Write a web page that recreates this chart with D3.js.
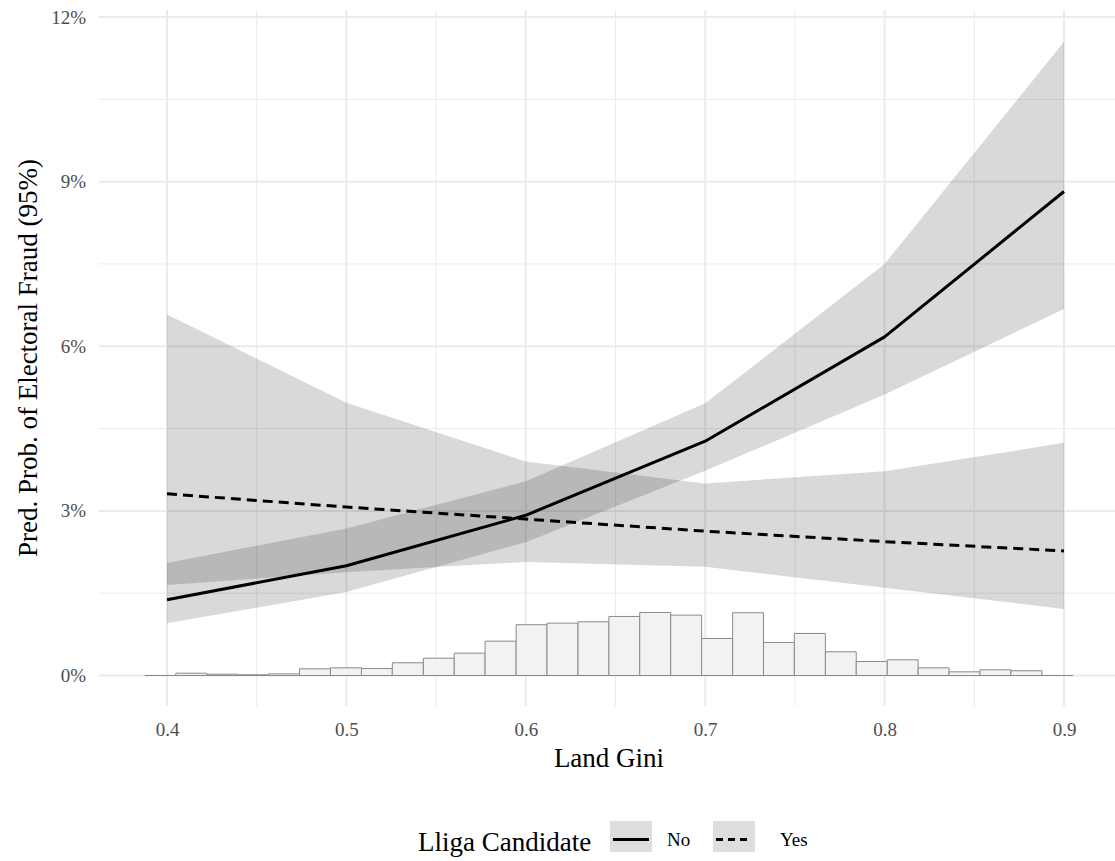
<!DOCTYPE html>
<html>
<head>
<meta charset="utf-8">
<script src="https://cdn.jsdelivr.net/npm/d3@7"></script>
<style>
  html, body { margin: 0; padding: 0; background: #fff; }
  svg { display: block; }
  text { font-family: "Liberation Serif", "DejaVu Serif", serif; }
</style>
</head>
<body>
<svg id="chart" width="1115" height="861"></svg>
<script>
// ---- data ----
const gini = [0.4, 0.5, 0.6, 0.7, 0.8, 0.9];

// Lliga Candidate = No (solid)
const noFit   = [1.38, 2.00, 2.92, 4.27, 6.17, 8.82];
const noLower = [0.95, 1.52, 2.43, 3.73, 5.12, 6.68];
const noUpper = [2.05, 2.68, 3.54, 4.96, 7.50, 11.55];

// Lliga Candidate = Yes (dashed)
const yesFit   = [3.31, 3.07, 2.85, 2.63, 2.44, 2.27];
const yesLower = [1.65, 1.88, 2.07, 1.98, 1.60, 1.21];
const yesUpper = [6.58, 4.97, 3.90, 3.50, 3.72, 4.24];

// Histogram of Land Gini (bar heights in percentage-point units of the y axis)
const histEdges = [0.3877, 0.4049, 0.4222, 0.4394, 0.4567, 0.4739, 0.4911, 0.5084,
  0.5256, 0.5429, 0.5601, 0.5773, 0.5946, 0.6118, 0.6291, 0.6463, 0.6635, 0.6808,
  0.6980, 0.7153, 0.7325, 0.7497, 0.7670, 0.7842, 0.8015, 0.8187, 0.8359, 0.8532,
  0.8704, 0.8877, 0.9049];
const histHeights = [0, 0.042, 0.024, 0.013, 0.031, 0.122, 0.140, 0.128, 0.232, 0.316,
  0.407, 0.626, 0.925, 0.954, 0.979, 1.076, 1.149, 1.100, 0.675, 1.144, 0.602, 0.766,
  0.432, 0.255, 0.286, 0.140, 0.067, 0.104, 0.086, 0];

const xTicks = [0.4, 0.5, 0.6, 0.7, 0.8, 0.9];
const xMinor = [0.45, 0.55, 0.65, 0.75, 0.85];
const yTicks = [0, 3, 6, 9, 12];
const yMinor = [1.5, 4.5, 7.5, 10.5];

const legendLabels = ["No", "Yes"];
const xTitle = "Land Gini";
const yTitle = "Pred. Prob. of Electoral Fraud (95%)";
const legendTitle = "Lliga Candidate";

// ---- layout ----
const panel = { left: 99, right: 1115, top: 10, bottom: 706 };
const x = d3.scaleLinear().domain([0.4, 0.9]).range([167, 1064]);
const y = d3.scaleLinear().domain([0, 12]).range([675.5, 17]);

const svg = d3.select("#chart");

// grid
const grid = svg.append("g");
grid.selectAll("line.ymin").data(yMinor).enter().append("line")
  .attr("x1", panel.left).attr("x2", panel.right)
  .attr("y1", d => y(d)).attr("y2", d => y(d))
  .attr("stroke", "#ebebeb").attr("stroke-width", 1);
grid.selectAll("line.xmin").data(xMinor).enter().append("line")
  .attr("y1", panel.top).attr("y2", panel.bottom)
  .attr("x1", d => x(d)).attr("x2", d => x(d))
  .attr("stroke", "#ebebeb").attr("stroke-width", 1);
grid.selectAll("line.ymaj").data(yTicks).enter().append("line")
  .attr("x1", panel.left).attr("x2", panel.right)
  .attr("y1", d => y(d)).attr("y2", d => y(d))
  .attr("stroke", "#ebebeb").attr("stroke-width", 2);
grid.selectAll("line.xmaj").data(xTicks).enter().append("line")
  .attr("y1", panel.top).attr("y2", panel.bottom)
  .attr("x1", d => x(d)).attr("x2", d => x(d))
  .attr("stroke", "#ebebeb").attr("stroke-width", 2);

// histogram
const bins = histHeights.map((h, i) => ({ x0: histEdges[i], x1: histEdges[i + 1], h }));
svg.append("g").selectAll("path").data(bins).enter().append("path")
  .attr("d", b => `M${x(b.x0)},${y(0)}V${y(b.h)}H${x(b.x1)}V${y(0)}Z`)
  .attr("fill", "#f2f2f2")
  .attr("stroke", "#8a8a8a")
  .attr("stroke-width", 1);

// ribbons
const area = (lo, hi) => d3.area()
  .x((d, i) => x(gini[i]))
  .y0((d, i) => y(lo[i]))
  .y1((d, i) => y(hi[i]))(gini);
svg.append("path").attr("d", area(noLower, noUpper))
  .attr("fill", "#000").attr("fill-opacity", 0.15);
svg.append("path").attr("d", area(yesLower, yesUpper))
  .attr("fill", "#000").attr("fill-opacity", 0.15);

// lines
const line = vals => d3.line().x((d, i) => x(gini[i])).y((d, i) => y(vals[i]))(gini);
svg.append("path").attr("d", line(noFit))
  .attr("fill", "none").attr("stroke", "#000").attr("stroke-width", 3)
  .attr("stroke-linejoin", "round");
svg.append("path").attr("d", line(yesFit))
  .attr("fill", "none").attr("stroke", "#000").attr("stroke-width", 3)
  .attr("stroke-dasharray", "10,6");

// axes
const yAxis = svg.append("g").attr("transform", `translate(${panel.left},0)`)
  .call(d3.axisLeft(y).tickValues(yTicks).tickSize(0).tickPadding(13)
    .tickFormat(d => d + "%"));
yAxis.select(".domain").remove();
yAxis.selectAll("text").attr("font-size", 19).attr("fill", "#4d4d4d")
  .attr("font-family", "Liberation Serif, serif");

const xAxis = svg.append("g").attr("transform", `translate(0,${panel.bottom})`)
  .call(d3.axisBottom(x).tickValues(xTicks).tickSize(0).tickPadding(17)
    .tickFormat(d3.format(".1f")));
xAxis.select(".domain").remove();
xAxis.selectAll("text").attr("font-size", 19).attr("fill", "#4d4d4d")
  .attr("font-family", "Liberation Serif, serif");

// axis titles
svg.append("text").text(xTitle)
  .attr("x", (panel.left + panel.right) / 2 + 2).attr("y", 767)
  .attr("text-anchor", "middle").attr("font-size", 27).attr("fill", "#000");
svg.append("text").text(yTitle)
  .attr("transform", `translate(37,${(panel.top + panel.bottom) / 2}) rotate(-90)`)
  .attr("text-anchor", "middle").attr("font-size", 27).attr("fill", "#000");

// legend
const lg = svg.append("g");
lg.append("text").text(legendTitle).attr("x", 418).attr("y", 851)
  .attr("font-size", 27).attr("fill", "#000");
const keyX = [610, 713];
const keyLabelX = [667, 780];
const keyY = 821, keyW = 42, keyH = 31;
legendLabels.forEach((lab, i) => {
  lg.append("rect").attr("x", keyX[i]).attr("y", keyY).attr("width", keyW).attr("height", keyH)
    .attr("fill", "#000").attr("fill-opacity", 0.13);
  lg.append("line").attr("x1", keyX[i] + 3).attr("x2", keyX[i] + keyW - 3)
    .attr("y1", keyY + keyH / 2 + 3).attr("y2", keyY + keyH / 2 + 3)
    .attr("stroke", "#000").attr("stroke-width", 3)
    .attr("stroke-dasharray", i === 1 ? "7,5" : null);
  lg.append("text").text(lab).attr("x", keyLabelX[i]).attr("y", keyY + keyH / 2 + 3)
    .attr("dy", "0.35em").attr("font-size", 19).attr("fill", "#000");
});
</script>
</body>
</html>
